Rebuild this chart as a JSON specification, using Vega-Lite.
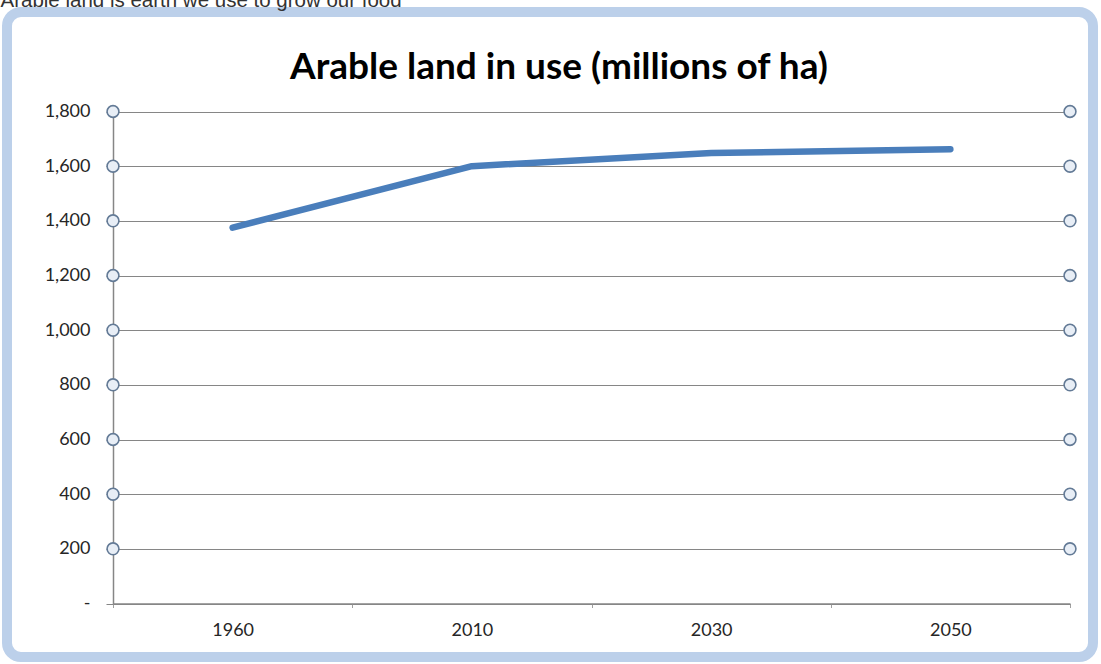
{
  "$schema": "https://vega.github.io/schema/vega-lite/v6.json",
  "width": 1086,
  "height": 645,
  "autosize": {"type": "none"},
  "padding": {"left": 7, "top": 12, "right": 8, "bottom": 7},
  "background": "white",
  "title": {
    "text": "Arable land in use (millions of ha)",
    "anchor": "middle",
    "frame": "group",
    "offset": -126,
    "dx": 9,
    "baseline": "alphabetic",
    "font": "Lato",
    "fontSize": 37,
    "fontWeight": "bold",
    "color": "#000000"
  },
  "config": {
    "view": {"fill": "white", "stroke": "#bcd0ea", "strokeWidth": 10, "cornerRadius": 14},
    "font": "Lato"
  },
  "datasets": {
    "land": [
      {"year": "1960", "ha": 1375},
      {"year": "2010", "ha": 1600},
      {"year": "2030", "ha": 1648},
      {"year": "2050", "ha": 1662}
    ],
    "grid": [
      {"v": 200}, {"v": 400}, {"v": 600}, {"v": 800}, {"v": 1000},
      {"v": 1200}, {"v": 1400}, {"v": 1600}, {"v": 1800}
    ]
  },
  "layer": [
    {
      "data": {"name": "land"},
      "mark": {"type": "line", "color": "#4a7ebb", "strokeWidth": 6.5, "strokeCap": "round", "strokeJoin": "round"},
      "encoding": {
        "x": {
          "field": "year",
          "type": "ordinal",
          "bandPosition": 0.5,
          "sort": null,
          "scale": {"type": "band", "range": [106, 1063], "paddingInner": 0, "paddingOuter": 0, "domain": ["1960", "2010", "2030", "2050"]},
          "axis": {
            "title": null,
            "offset": -53.5,
            "grid": false,
            "labelAngle": 0,
            "domainColor": "#868686",
            "domainWidth": 1.5,
            "tickColor": "#a0a0a0",
            "tickBand": "extent",
            "tickSize": 4,
            "labelFont": "Lato",
            "labelFontSize": 18,
            "labelColor": "#262626",
            "labelPadding": 14
          }
        },
        "y": {
          "field": "ha",
          "type": "quantitative",
          "scale": {"domain": [0, 1800], "range": [591.5, 99.5], "nice": false, "zero": true},
          "axis": {
            "title": "Arable land is earth we use to grow our food",
            "titleX": -113,
            "titleY": -6,
            "titleAngle": 0,
            "titleAlign": "left",
            "titleBaseline": "alphabetic",
            "titleFont": "Liberation Sans",
            "titleFontSize": 20.5,
            "titleFontWeight": "normal",
            "titleColor": "#333333",
            "offset": -106,
            "values": [0, 200, 400, 600, 800, 1000, 1200, 1400, 1600, 1800],
            "grid": true,
            "gridColor": "#868686",
            "gridWidth": 1,
            "domainColor": "#868686",
            "domainWidth": 1.5,
            "tickColor": "#868686",
            "tickSize": 7,
            "labelPadding": 16,
            "labelExpr": "datum.value === 0 ? '-' : format(datum.value, ',')",
            "labelFont": "Lato",
            "labelFontSize": 18,
            "labelColor": "#262626"
          }
        }
      }
    },
    {
      "data": {"name": "grid"},
      "mark": {"type": "point", "shape": "circle", "filled": true, "fill": "#e8eef6", "stroke": "#637a96", "strokeWidth": 1.6, "size": 140, "opacity": 1},
      "encoding": {
        "x": {"datum": "1960", "type": "ordinal", "bandPosition": 0},
        "y": {"field": "v", "type": "quantitative"}
      }
    },
    {
      "data": {"name": "grid"},
      "mark": {"type": "point", "shape": "circle", "filled": true, "fill": "#e8eef6", "stroke": "#637a96", "strokeWidth": 1.6, "size": 140, "opacity": 1},
      "encoding": {
        "x": {"datum": "2050", "type": "ordinal", "bandPosition": 1},
        "y": {"field": "v", "type": "quantitative"}
      }
    }
  ]
}
